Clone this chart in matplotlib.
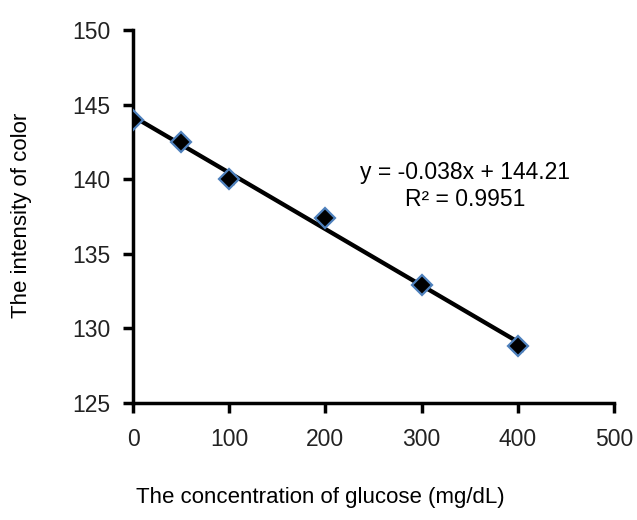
import matplotlib
matplotlib.use("Agg")
import matplotlib.pyplot as plt
import numpy as np

plt.rcParams['font.family'] = ['Liberation Sans', 'DejaVu Sans']

concentration = [0, 50, 100, 200, 300, 400]
intensity = [144.0, 142.5, 140.0, 137.4, 132.9, 128.8]
errors = [0.3, 0.3, 0.3, 0.3, 0.3, 0.3]
x_ticks = [0, 100, 200, 300, 400, 500]
y_ticks = [125, 130, 135, 140, 145, 150]

fig = plt.figure(figsize=(6.37, 5.20), dpi=100)
ax = fig.add_axes([133/637, 1-403/520, (614-133)/637, (403-30)/520])

slope, intercept = np.polyfit(concentration, intensity, 1)
xs = np.array([min(concentration), max(concentration)])
ax.plot(xs, slope*xs + intercept, color='black', lw=3.1, zorder=2)

ax.errorbar(concentration, intensity, yerr=errors, fmt='none', ecolor='black',
            elinewidth=1, capsize=3.5, zorder=3)
ax.plot(concentration, intensity, linestyle='none', marker='D', markersize=10,
        markerfacecolor='black', markeredgecolor='#4F81BD', markeredgewidth=1.6, zorder=4)

ax.set_xlim(0, 500)
ax.set_ylim(125, 150)
ax.set_xticks(x_ticks)
ax.set_yticks(y_ticks)
ax.spines[['top', 'right']].set_visible(False)
for s in ['left', 'bottom']:
    ax.spines[s].set_linewidth(2.5)
ax.tick_params(axis='both', direction='out', length=7, width=2.5, labelsize=16.5,
               color='black', labelcolor='#222222')
ax.tick_params(axis='x', pad=11)
ax.tick_params(axis='y', pad=9)

ax.text(345, 140.47, 'y = -0.038x + 144.21', fontsize=16.5, ha='center', va='center')
ax.text(345, 138.67, 'R² = 0.9951', fontsize=16.5, ha='center', va='center')

fig.text(320/637, 1-498/520, 'The concentration of glucose (mg/dL)', fontsize=16,
         ha='center', va='center')
fig.text(22/637, 1-215/520, 'The intensity of color', fontsize=16, rotation=90,
         ha='center', va='center')

fig.savefig('out.png', dpi=100)
